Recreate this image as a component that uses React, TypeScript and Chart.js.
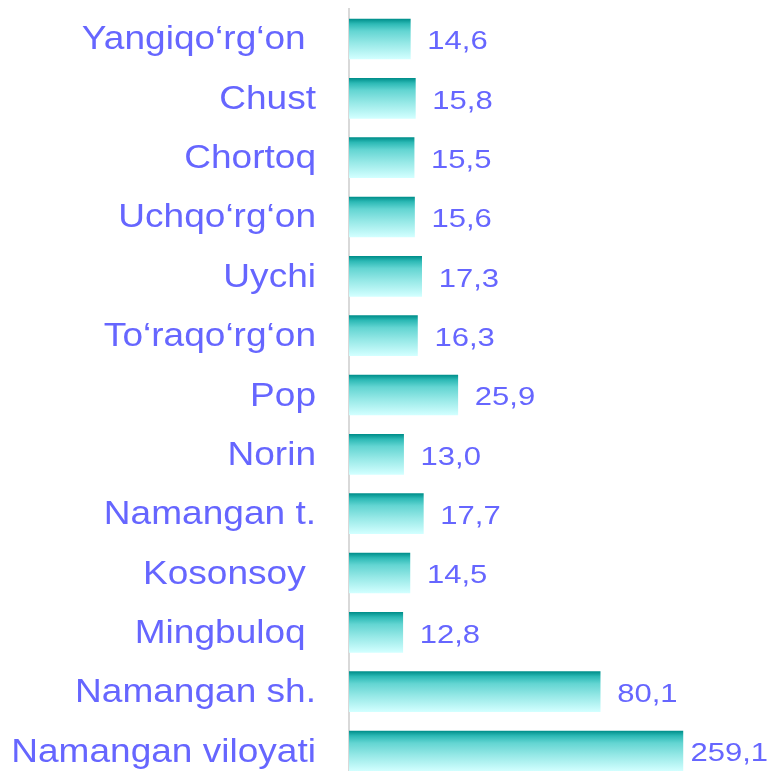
import React, { useEffect, useRef } from "react";
import { Chart, registerables } from "chart.js";

Chart.register(...registerables);

const categories: string[] = [
  "Yangiqo‘rg‘on ",
  "Chust",
  "Chortoq",
  "Uchqo‘rg‘on",
  "Uychi",
  "To‘raqo‘rg‘on",
  "Pop",
  "Norin",
  "Namangan t.",
  "Kosonsoy ",
  "Mingbuloq ",
  "Namangan sh.",
  "Namangan viloyati",
];

// Values printed next to the bars
const values: number[] = [14.6, 15.8, 15.5, 15.6, 17.3, 16.3, 25.9, 13.0, 17.7, 14.5, 12.8, 80.1, 259.1];

// Bar lengths as drawn in the picture (the two totals are shortened to fit)
const barValues: number[] = [14.6, 15.8, 15.5, 15.6, 17.3, 16.3, 25.9, 13.0, 17.7, 14.5, 12.8, 59.8, 79.5];

const TEXT_COLOR = "#6666ff";
const FONT_FAMILY = '"Liberation Sans", Arial, sans-serif';

const gradientPlugin = {
  id: "barGradient",
  beforeDatasetsDraw(chart: any) {
    const ctx = chart.ctx as CanvasRenderingContext2D;
    const meta = chart.getDatasetMeta(0);
    meta.data.forEach((el: any) => {
      const top = el.y - el.height / 2;
      const bottom = el.y + el.height / 2;
      if (!isFinite(top) || !isFinite(bottom)) return;
      const g = ctx.createLinearGradient(0, top, 0, bottom);
      g.addColorStop(0, "#008f8b");
      g.addColorStop(0.12, "#2cb9b5");
      g.addColorStop(0.3, "#63d5d2");
      g.addColorStop(0.6, "#95e8e6");
      g.addColorStop(1, "#d2ffff");
      el.options = Object.assign({}, el.options, { backgroundColor: g });
    });
  },
};

const labelPlugin = {
  id: "customLabels",
  afterDraw(chart: any) {
    const ctx = chart.ctx as CanvasRenderingContext2D;
    const yScale = chart.scales.y;
    const xScale = chart.scales.x;
    const valueScaleX = 1.17;
    ctx.save();
    ctx.fillStyle = TEXT_COLOR;
    categories.forEach((label, i) => {
      const y = yScale.getPixelForValue(i);
      // category label
      ctx.save();
      ctx.font = `32.5px ${FONT_FAMILY}`;
      ctx.textAlign = "right";
      ctx.textBaseline = "alphabetic";
      ctx.translate(316, y + 10.5);
      ctx.scale(1.14, 1);
      ctx.fillText(label, 0, 0);
      ctx.restore();
      // value label
      ctx.save();
      ctx.font = `26.5px ${FONT_FAMILY}`;
      ctx.textAlign = "left";
      ctx.textBaseline = "alphabetic";
      const text = values[i].toFixed(1).replace(".", ",");
      const w = ctx.measureText(text).width * valueScaleX;
      const x = Math.min(xScale.getPixelForValue(barValues[i]) + 17, chart.width - w - 2);
      ctx.translate(x, y + 10.3);
      ctx.scale(valueScaleX, 1);
      ctx.fillText(text, 0, 0);
      ctx.restore();
    });
    ctx.restore();
  },
};

export default function App() {
  const canvasRef = useRef<HTMLCanvasElement | null>(null);

  useEffect(() => {
    const canvas = canvasRef.current;
    if (!canvas) return;
    const chart = new Chart(canvas, {
      type: "bar",
      data: {
        labels: categories,
        datasets: [
          {
            data: barValues,
            barThickness: 40,
            backgroundColor: "#63d5d2",
            borderWidth: 0,
          },
        ],
      },
      options: {
        indexAxis: "y",
        responsive: false,
        animation: false,
        layout: { padding: { top: 9.33, bottom: 9.33, left: 0, right: 0 } },
        plugins: {
          legend: { display: false },
          tooltip: { enabled: false },
        },
        scales: {
          x: {
            display: false,
            min: 0,
            max: 100.24,
          },
          y: {
            display: true,
            offset: true,
            grid: { display: false },
            ticks: { display: false },
            border: { display: true, color: "#d9d9d9", width: 2 },
            afterFit: (scale: any) => {
              scale.width = 349;
            },
          },
        },
      } as any,
      plugins: [gradientPlugin, labelPlugin],
    });
    return () => chart.destroy();
  }, []);

  return (
    <div style={{ position: "fixed", left: 0, top: 0, width: 770, height: 790 }}>
      <canvas ref={canvasRef} width={770} height={790} style={{ display: "block" }} />
    </div>
  );
}
